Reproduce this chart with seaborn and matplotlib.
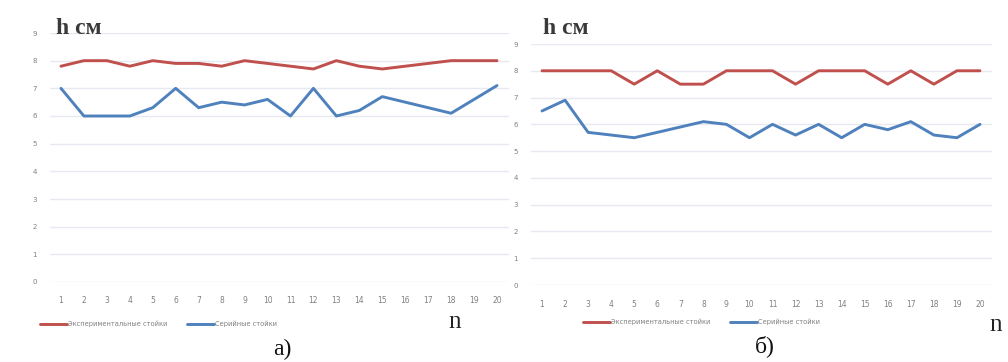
import numpy as np
import pandas as pd
import matplotlib
matplotlib.use("Agg")
import matplotlib.pyplot as plt
import seaborn as sns

# Measurement number along the x axis
n_values = list(range(1, 21))

# Series a): stand heights, cm
exp_a = [7.8, 8.0, 8.0, 7.8, 8.0, 7.9, 7.9, 7.8, 8.0, 7.9,
         7.8, 7.7, 8.0, 7.8, 7.7, 7.8, 7.9, 8.0, 8.0, 8.0]
ser_a = [7.0, 6.0, 6.0, 6.0, 6.3, 7.0, 6.3, 6.5, 6.4, 6.6,
         6.0, 7.0, 6.0, 6.2, 6.7, 6.5, 6.3, 6.1, 6.6, 7.1]

# Series б): stand heights, cm
exp_b = [8.0, 8.0, 8.0, 8.0, 7.5, 8.0, 7.5, 7.5, 8.0, 8.0,
         8.0, 7.5, 8.0, 8.0, 8.0, 7.5, 8.0, 7.5, 8.0, 8.0]
ser_b = [6.5, 6.9, 5.7, 5.6, 5.5, 5.7, 5.9, 6.1, 6.0, 5.5,
         6.0, 5.6, 6.0, 5.5, 6.0, 5.8, 6.1, 5.6, 5.5, 6.0]

y_ticks = list(range(0, 10))
label_exp = "Экспериментальные стойки"
label_ser = "Серийные стойки"
palette = {label_exp: "#C0504D", label_ser: "#4F81BD"}

sns.set_theme(style="white")
plt.rcParams["font.family"] = ["DejaVu Sans"]

W, H = 1008, 362
fig = plt.figure(figsize=(W / 100, H / 100), dpi=100)
fig.patch.set_facecolor("white")


def fx(px):
    return px / W


def fy(py):
    return 1 - py / H


def panel(rect, exp_vals, ser_vals, ylab_pad, xlab_pad, hcm_xy, n_xy, leg_xy, cap_xy, cap):
    ax = fig.add_axes(rect)
    df = pd.DataFrame({
        "n": n_values * 2,
        "h": exp_vals + ser_vals,
        "series": [label_exp] * len(n_values) + [label_ser] * len(n_values),
    })
    sns.lineplot(data=df, x="n", y="h", hue="series", palette=palette,
                 linewidth=2.1, ax=ax, legend=True)
    ax.set_xlim(0.5, 20.5)
    ax.set_ylim(0, 9)
    ax.set_xticks(n_values)
    ax.set_yticks(y_ticks)
    ax.set_xlabel("")
    ax.set_ylabel("")
    for s in ax.spines.values():
        s.set_visible(False)
    ax.grid(axis="y", color="#E6EAF0", linewidth=1.0)
    ax.grid(axis="x", visible=False)
    ax.set_axisbelow(True)
    ax.tick_params(axis="y", length=0, pad=ylab_pad, labelsize=5, labelcolor="#808080")
    ax.tick_params(axis="x", length=0, pad=xlab_pad, labelsize=5.5, labelcolor="#808080")
    ax.set_facecolor("white")

    handles, labels = ax.get_legend_handles_labels()
    ax.legend(handles, labels, loc="center left",
              bbox_to_anchor=(fx(leg_xy[0]), fy(leg_xy[1])),
              bbox_transform=fig.transFigure, ncol=2, frameon=False,
              fontsize=4.8, labelcolor="#808080", handlelength=4.0,
              handletextpad=0.2, columnspacing=3.0, borderpad=0,
              borderaxespad=0)

    fig.text(fx(hcm_xy[0]), fy(hcm_xy[1]), "h см", family="Liberation Serif",
             fontweight="bold", fontsize=17, color="#3A3A3A", ha="left", va="center")
    fig.text(fx(n_xy[0]), fy(n_xy[1]), "n", family="Liberation Serif",
             fontsize=18, color="#222222", ha="center", va="center")
    fig.text(fx(cap_xy[0]), fy(cap_xy[1]), cap, family="Liberation Serif",
             fontsize=17, color="#111111", ha="center", va="center")
    return ax


# left panel: y 0 at 282 px, 9 at 33 px; x from 49.5 to 508.5 px
panel([fx(49.5), fy(282), fx(459), (282 - 33) / H], exp_a, ser_a,
      ylab_pad=9, xlab_pad=10, hcm_xy=(56, 28), n_xy=(455, 322),
      leg_xy=(40, 324), cap_xy=(282, 349), cap="а)")

# right panel: y 0 at 285 px, 9 at 44 px; x from 530.5 to 991.5 px
panel([fx(530.5), fy(285), fx(461), (285 - 44) / H], exp_b, ser_b,
      ylab_pad=9, xlab_pad=11, hcm_xy=(543, 28), n_xy=(996, 325),
      leg_xy=(583, 322), cap_xy=(765, 346), cap="б)")

fig.savefig("out.png", dpi=100, facecolor="white")
